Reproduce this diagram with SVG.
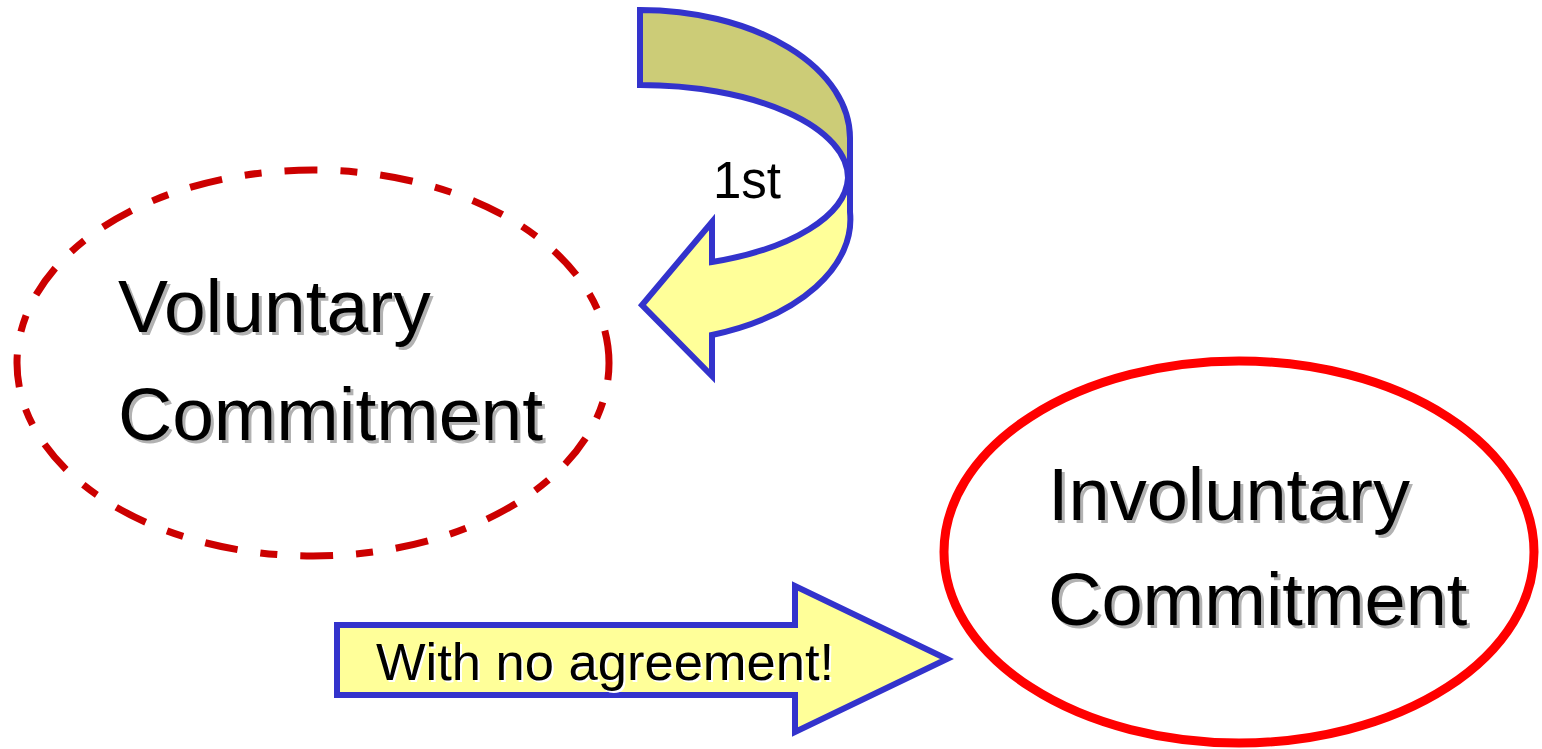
<svg xmlns="http://www.w3.org/2000/svg" width="1542" height="749" viewBox="0 0 1542 749">
<style>
.lbl{font-family:"Liberation Sans",Arial,sans-serif;font-size:74px;fill:#000}
.shd{font-family:"Liberation Sans",Arial,sans-serif;font-size:74px;fill:#B2B2B2}
.big{font-size:75px}
.small{font-family:"Liberation Sans",Arial,sans-serif;font-size:51px;fill:#000}
.arrow{stroke:#3333CC;stroke-width:6;stroke-linejoin:miter}
</style>
<rect width="1542" height="749" fill="#FFFFFF"/>
<g id="connectors">
  <g id="curved-arrow">
    <path class="arrow" fill="#CCCC77" d="M 640,10 A 210 128 0 0 1 850,138 L 850,178 L 848,178 A 208 93 0 0 0 640,85 Z"/>
    <path class="arrow" fill="#FFFF99" d="M 848,178 L 850,178 L 850,212 A 210 123 0 0 1 712,335 L 712,376 L 642,305 L 712,222 L 712,262 A 208 92 0 0 0 848,178 Z"/>
    <text class="small" x="713" y="198">1st</text>
  </g>
  <g id="straight-arrow">
    <path class="arrow" fill="#FFFF99" d="M 337,625 L 795,625 L 795,586 L 947,659 L 795,732 L 795,695 L 337,695 Z"/>
    <text class="small" x="378" y="682" style="fill:#FFFFFF;font-size:52.5px">With no agreement!</text>
    <text class="small" x="376" y="680" style="font-size:52.5px">With no agreement!</text>
  </g>
</g>
<g id="voluntary">
  <ellipse cx="313" cy="363" rx="296" ry="193" fill="none" stroke="#CC0000" stroke-width="7" stroke-dasharray="33 23 17 23" stroke-dashoffset="16"/>
  <text class="shd big" x="121" y="335">Voluntary</text>
  <text class="lbl big" x="118" y="332">Voluntary</text>
  <text class="shd big" x="121" y="443">Commitment</text>
  <text class="lbl big" x="118" y="440">Commitment</text>
</g>
<g id="involuntary">
  <ellipse cx="1239" cy="552" rx="295" ry="191" fill="#FFFFFF" stroke="#FF0000" stroke-width="9"/>
  <text class="shd" x="1051" y="523">Involuntary</text>
  <text class="lbl" x="1048" y="520">Involuntary</text>
  <text class="shd" x="1051" y="628">Commitment</text>
  <text class="lbl" x="1048" y="625">Commitment</text>
</g>
</svg>
